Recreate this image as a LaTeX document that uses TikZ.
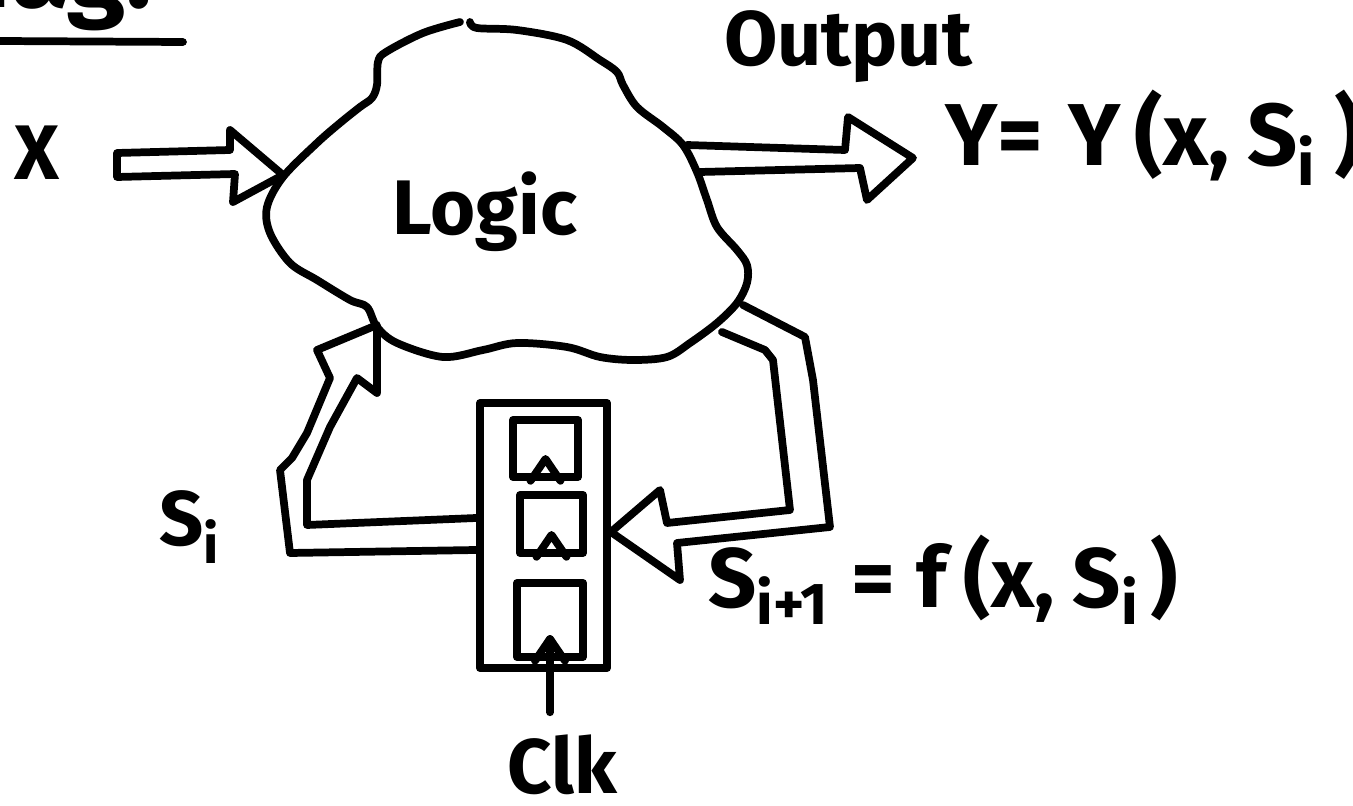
\documentclass[tikz,border=0pt]{standalone}
\usepackage{fontspec}
\setmainfont{Fira Sans}
\begin{document}
\begin{tikzpicture}[x=0.01cm,y=-0.01cm,
  ink/.style={line width=2.2pt,line cap=round,line join=round},
  hand/.style={font=\fontsize{22}{26}\selectfont\bfseries,inner sep=0pt},
  bighand/.style={font=\fontsize{24}{28}\selectfont\bfseries,inner sep=0pt},
  ffbox/.style={ink,draw,inner sep=0pt},
]
\useasboundingbox (0,0) rectangle (1353,806);
\clip (0,0) rectangle (1353,806);

% title (cut off at the top)
\node[font=\fontsize{30}{34}\selectfont\bfseries,inner sep=0pt,anchor=base east] (title) at (152,8) {Diag:};
\draw[ink] (0,41) -- (183,42);

% Logic cloud
\draw[ink] plot[smooth,tension=0.55] coordinates {(470,22) (477,28) (517,30) (567,40) (600,60) (617,72) (623,85) (637,107) (663,127) (683,145) (697,172) (707,200) (717,227) (737,250) (747,265) (747,283) (737,303) (717,323) (690,343) (667,357) (633,360) (600,357) (567,347) (517,343) (483,350) (443,357) (397,343) (377,327) (367,307) (350,300) (317,280) (290,263) (270,233) (267,207) (283,177) (317,143) (340,123) (360,107) (372,98) (377,85) (378,62) (386,52) (423,33) (460,22)};
\node[hand] (logic) at (485,212) {Logic};

% input X
\node[hand] (x) at (37,153) {X};
\coordinate (xtip) at (283,175);
\draw[ink] (117,153) -- (230,150) -- (230,130) -- (xtip) -- (233,202) -- (235,174) -- (117,177) -- cycle;

% output
\node[hand] (out) at (848,47) {Output};
\coordinate (otip) at (913,158);
\draw[ink] (687,145) -- (845,150) -- (848,117) -- (otip) -- (867,200) -- (860,168) -- (700,172);
\node[font=\fontsize{25}{29}\selectfont\bfseries,inner sep=0pt,anchor=base west] (y) at (945,166) {Y=\hspace{7pt}Y\hspace{4pt}(x,\hspace{5pt}S\textsubscript{i}\hspace{5pt})};

% register with three flip-flops
\node[ffbox,minimum width=1.27cm,minimum height=2.65cm] (reg) at (543.5,535.5) {};
\node[ffbox,minimum width=0.65cm,minimum height=0.57cm] (ff1) at (545.5,448.5) {};
\node[ffbox,minimum width=0.63cm,minimum height=0.58cm] (ff2) at (551.5,524) {};
\node[ffbox,minimum width=0.66cm,minimum height=0.74cm] (ff3) at (550,620) {};
\foreach \f in {ff1,ff2,ff3}{
  \draw[ink] ([xshift=-0.15cm]\f.south) -- ([yshift=0.22cm]\f.south) -- ([xshift=0.15cm]\f.south);
}

% clock
\node[hand] (clk) at (562,765) {Clk};
\draw[ink] ([yshift=0.22cm]clk.north -| ff3.south) -- ([yshift=0.22cm]ff3.south);

% state feedback: register -> logic (S_i)
\coordinate (sitip) at (377,325);
\draw[ink] (reg.west |- 0,550) -- (290,553) -- (280,470) -- (292,458) -- (307,433) -- (330,378) -- (317,350) -- (sitip) -- (377,393) -- (357,378) -- (330,427) -- (307,480) -- (307,525) -- (reg.west |- 0,518);
\node[hand] (si) at (190,527) {S\textsubscript{i}};

% next state: logic -> register (S_{i+1})
\coordinate (sntip) at (reg.east |- 0,532);
\draw[ink] (743,305) -- (805,337) -- (813,380) -- (830,527) -- (677,543) -- (680,580) -- (sntip) -- (660,490) -- (667,523) -- (790,510) -- (773,360) -- (765,350) -- (722,332);
\node[bighand,anchor=base west] (sn) at (708,607) {S\textsubscript{i+1}\hspace{6pt}=\hspace{6pt}f\hspace{5pt}(x,\hspace{5pt}S\textsubscript{i}\hspace{3pt})};
\end{tikzpicture}
\end{document}
